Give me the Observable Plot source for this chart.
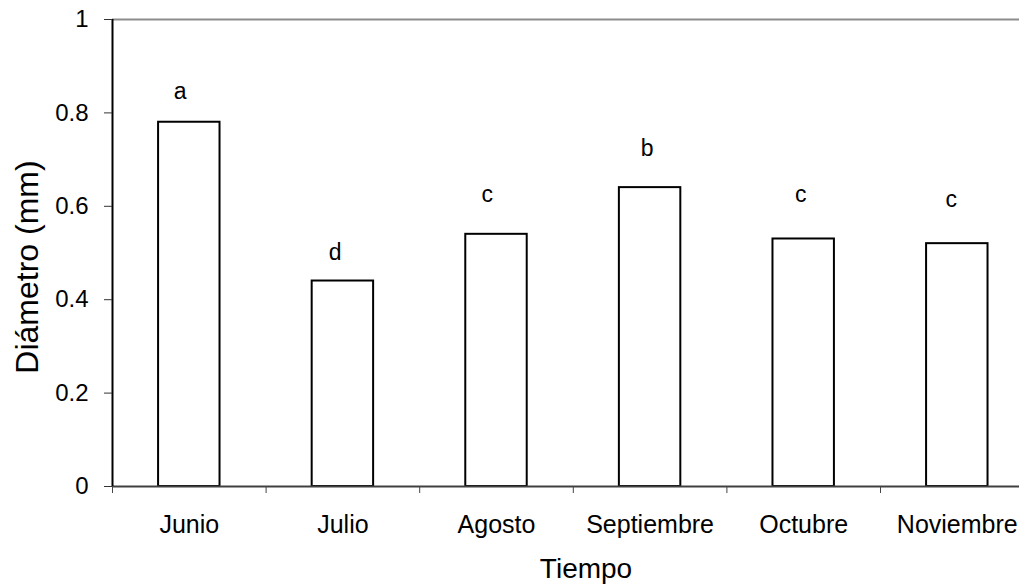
<!DOCTYPE html>
<html>
<head>
<meta charset="utf-8">
<script src="https://cdn.jsdelivr.net/npm/d3@7"></script>
<script src="https://cdn.jsdelivr.net/npm/@observablehq/plot@0.6"></script>
<style>
  html, body { margin: 0; padding: 0; background: #ffffff; }
  svg { display: block; }
</style>
</head>
<body>
<div id="chart"></div>
<script>
const categories = ["Junio", "Julio", "Agosto", "Septiembre", "Octubre", "Noviembre"];
const values = [0.78, 0.44, 0.54, 0.64, 0.53, 0.52];
const letters = ["a", "d", "c", "b", "c", "c"];
const letterY = [0.83, 0.484, 0.609, 0.707, 0.609, 0.598];
const letterX = [0.44, 0.45, 0.44, 0.48, 0.48, 0.46];
const yTicks = [0, 0.2, 0.4, 0.6, 0.8, 1];
const yTitle = "Diámetro (mm)";
const xTitle = "Tiempo";

const data = categories.map((c, i) => ({
  cat: c, i, value: values[i], letter: letters[i], ly: letterY[i], lx: i + letterX[i]
}));
const bounds = d3.range(categories.length + 1);
const n = categories.length;

const chart = Plot.plot({
  width: 1019,
  height: 584,
  marginLeft: 112,
  marginRight: 0,
  marginTop: 19,
  marginBottom: 98,
  style: { fontFamily: "'Liberation Sans', Arial, sans-serif", color: "black", background: "white" },
  x: { type: "linear", domain: [0, n], range: [112, 1033.6], axis: null, label: null },
  y: { domain: [0, 1], axis: null, label: null },
  marks: [
    Plot.ruleY([1], { x1: 0, x2: n, stroke: "#8c8c8c", strokeWidth: 2 }),
    Plot.rectY(data, {
      x1: d => d.i + 0.3, x2: d => d.i + 0.7, y1: 0, y2: "value",
      fill: "white", stroke: "black", strokeWidth: 2
    }),
    Plot.ruleY([0], { x1: 0, x2: n, stroke: "#404040", strokeWidth: 2 }),
    Plot.ruleX([0], { y1: 0, y2: 1, stroke: "black", strokeWidth: 2 }),
    Plot.axisY({ ticks: yTicks, tickSize: 8, tickPadding: 16, fontSize: 24, tickFormat: d => String(d), stroke: "#333", label: null }),
    Plot.axisX({ ticks: bounds, tickSize: 7, tickFormat: () => "", stroke: "#444", label: null }),
    Plot.text(data, {
      x: d => d.i + 0.5, frameAnchor: "bottom", lineAnchor: "bottom", dy: 46,
      text: "cat", fontSize: 25, fill: "black"
    }),
    Plot.text(data, {
      x: "lx", y: "ly", text: "letter", lineAnchor: "bottom", fontSize: 23, fill: "black"
    }),
    Plot.text([xTitle], {
      frameAnchor: "bottom", lineAnchor: "bottom", dx: 20, dy: 91.7, fontSize: 28, fill: "black"
    }),
    Plot.text([yTitle], {
      frameAnchor: "left", textAnchor: "middle", rotate: -90, dx: -85, dy: 14, fontSize: 32, fill: "black"
    })
  ]
});
document.getElementById("chart").appendChild(chart);
</script>
</body>
</html>
